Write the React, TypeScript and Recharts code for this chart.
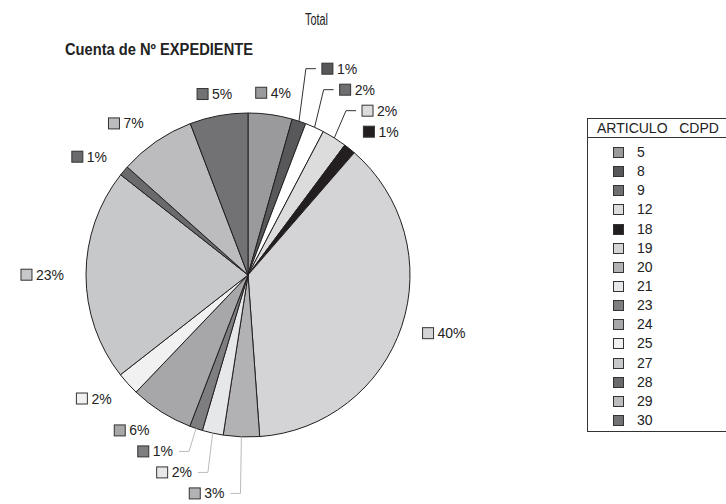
import React from "react";
import { PieChart, Pie, Cell, Legend } from "recharts";

const CATEGORIES = ["5", "8", "9", "12", "18", "19", "20", "21", "23", "24", "25", "27", "28", "29", "30"];
// slice sizes
const SHARES = [4.4, 1.4, 1.9, 2.5, 1.2, 37.5, 3.6, 2.1, 1.3, 6.3, 2.3, 21.2, 1.0, 7.6, 5.8];
// percentages printed next to the slices
const PCT_LABELS = ["4%", "1%", "2%", "2%", "1%", "40%", "3%", "2%", "1%", "6%", "2%", "23%", "1%", "7%", "5%"];
const KEY_COLORS = ["#9a9a9c", "#58585a", "#6f6f71", "#dcdcdd", "#231f20", "#d4d4d6", "#b2b2b4", "#e6e7e8", "#7e7e80", "#a7a7a9", "#f1f1f2", "#c7c8ca", "#6a6a6c", "#bcbcbe", "#727274"];
const SLICE_COLORS = ["#9a9a9c", "#58585a", "#ffffff", "#dcdcdd", "#231f20", "#d4d4d6", "#b2b2b4", "#e6e7e8", "#7e7e80", "#a7a7a9", "#f1f1f2", "#c7c8ca", "#6a6a6c", "#bcbcbe", "#727274"];

const data = CATEGORIES.map((name, i) => ({ name, value: SHARES[i] }));

const FONT = "'Liberation Sans', Arial, Helvetica, sans-serif";
const W = 726;
const H = 504;
const GAP = 21;

const textWidth = (s: string) => (s.length - 1) * 7.79 + 12.45;

type Item = { s: number; c: number; ex: number; ey: number; px: number; py: number; y: number; side: number };

function layoutLabels(cx: number, cy: number, r: number): Item[] {
  const total = SHARES.reduce((a, b) => a + b, 0);
  let acc = 0;
  const items: Item[] = SHARES.map((v) => {
    const a = ((acc + v / 2) / total) * 2 * Math.PI;
    acc += v;
    const s = Math.sin(a);
    const c = Math.cos(a);
    const rl = r + 22;
    const px = cx + rl * s;
    const py = cy - rl * c;
    const side = c > 0 && Math.abs(s) < 0.2 ? 0 : s > 0 ? 1 : -1;
    return { s, c, ex: cx + r * s, ey: cy - r * c, px, py, y: py, side };
  });
  for (const side of [1, -1]) {
    const upper = items.filter((it) => it.side === side && it.py < cy).sort((a, b) => b.py - a.py);
    for (let k = 1; k < upper.length; k++) upper[k].y = Math.min(upper[k].py, upper[k - 1].y - GAP);
    const lower = items.filter((it) => it.side === side && it.py >= cy).sort((a, b) => a.py - b.py);
    for (let k = 1; k < lower.length; k++) lower[k].y = Math.max(lower[k].py, lower[k - 1].y + GAP);
  }
  return items;
}

const renderLabel = (props: any) => {
  const { cx, cy, outerRadius, index } = props;
  const it = layoutLabels(cx, cy, outerRadius)[index];
  const txt = PCT_LABELS[index];
  const tw = textWidth(txt);
  const full = 15 + tw;
  const pushed = Math.abs(it.y - it.py) > 2;
  const ax = pushed ? it.px + it.side * 16 : it.px;
  let rx = ax;
  if (it.side === -1) rx = ax - full;
  if (it.side === 0) rx = it.px - full / 2;
  return (
    <g>
      {pushed && (
        <polyline
          points={`${it.ex},${it.ey} ${it.px},${it.y} ${it.px + it.side * 10},${it.y}`}
          fill="none"
          stroke={it.y < cy ? "#333" : "#bbb"}
          strokeWidth={1}
        />
      )}
      <rect x={rx} y={it.y - 5.5} width={11} height={11} fill={KEY_COLORS[index]} stroke="#333" strokeWidth={1} />
      <text x={rx + 15} y={it.y} dominantBaseline="central" fontSize={14} fontFamily={FONT} fill="#222">
        {txt}
      </text>
    </g>
  );
};

const renderLegend = () => (
  <div
    style={{
      width: 160,
      height: 314,
      border: "1px solid #333",
      boxSizing: "border-box",
      background: "#fff",
      fontFamily: FONT,
      fontSize: 14,
      color: "#222",
    }}
  >
    <div style={{ height: 18, lineHeight: "18px", borderBottom: "1px solid #333", paddingLeft: 9, whiteSpace: "pre" }}>
      {"ARTICULO   CDPD"}
    </div>
    <div style={{ paddingTop: 5 }}>
      {CATEGORIES.map((cat, i) => (
        <div key={cat} style={{ height: 19.15, position: "relative" }}>
          <div
            style={{
              position: "absolute",
              left: 25,
              top: 4,
              width: 11,
              height: 11,
              boxSizing: "border-box",
              border: "1px solid #333",
              background: KEY_COLORS[i],
            }}
          />
          <div style={{ position: "absolute", left: 49, top: 0, lineHeight: "19px" }}>{cat}</div>
        </div>
      ))}
    </div>
  </div>
);

export default function App() {
  return (
    <div style={{ position: "absolute", left: 0, top: 0, width: W, height: H, overflow: "hidden", background: "#fff" }}>
      <PieChart width={W} height={H} margin={{ top: 0, right: 0, bottom: 0, left: 0 }}>
        <Pie
          data={data}
          dataKey="value"
          nameKey="name"
          cx={248}
          cy={275}
          outerRadius={162}
          startAngle={90}
          endAngle={-270}
          stroke="#231f20"
          strokeWidth={1}
          label={renderLabel}
          labelLine={false}
          isAnimationActive={false}
        >
          {data.map((d, i) => (
            <Cell key={d.name} fill={SLICE_COLORS[i]} />
          ))}
        </Pie>
        <Legend
          layout="vertical"
          align="right"
          verticalAlign="top"
          content={renderLegend}
          wrapperStyle={{ left: 587, top: 118, width: 160 }}
        />
      </PieChart>
      <svg width={W} height={70} style={{ position: "absolute", left: 0, top: 0, pointerEvents: "none" }}>
        <text x={305} y={25} fontSize={16} fontFamily={FONT} fill="#222" textLength={23} lengthAdjust="spacingAndGlyphs">
          Total
        </text>
        <text
          x={65}
          y={55}
          fontSize={16}
          fontWeight="bold"
          fontFamily={FONT}
          fill="#222"
          textLength={188}
          lengthAdjust="spacingAndGlyphs"
        >
          Cuenta de Nº EXPEDIENTE
        </text>
      </svg>
    </div>
  );
}
